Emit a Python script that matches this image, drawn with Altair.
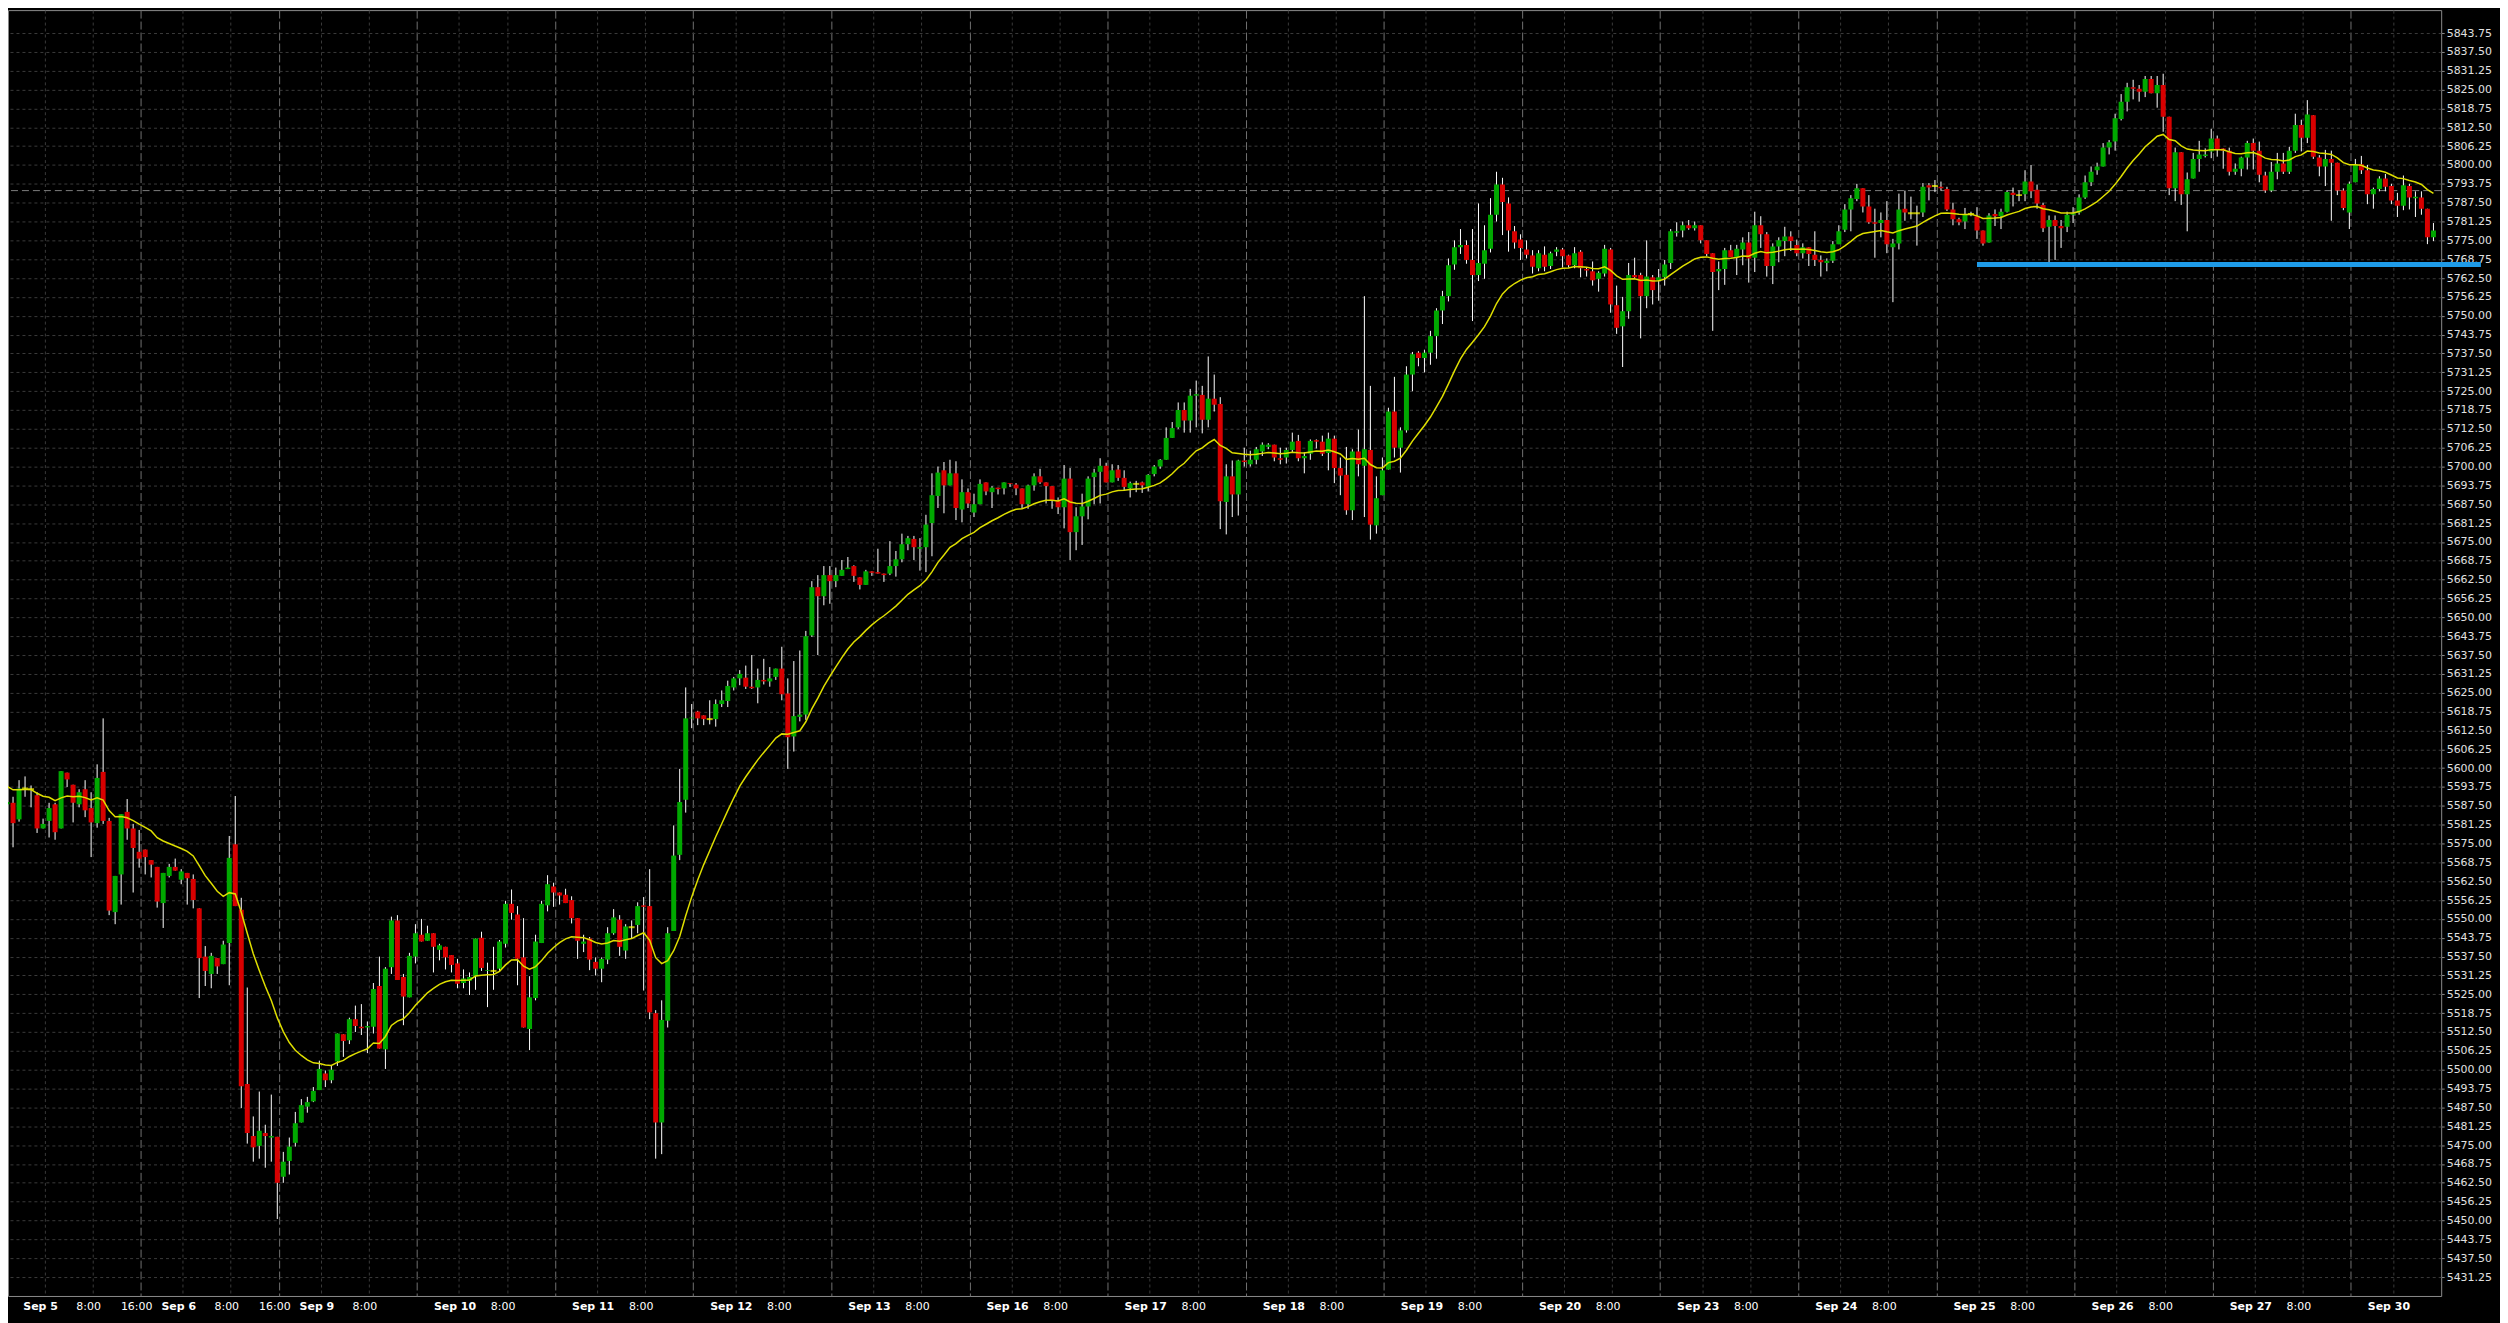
import altair as alt
import pandas as pd

# ---------------- data: hourly candles, Sep 4 18:00 .. Sep 30 07:00 ----------------
opens = [
    5588, 5588.5, 5583, 5593.25, 5593, 5591, 5580, 5582.5, 5588, 5580,
    5598.5, 5594.5, 5588, 5593, 5586.75, 5581.75, 5598.75, 5582.5, 5552.25, 5564.75,
    5585.5, 5580, 5572.25, 5573, 5569.5, 5567.25, 5555.25, 5564.25, 5567.25, 5563,
    5565.25, 5563.25, 5553.5, 5537.5, 5531.75, 5537, 5535, 5542, 5574.75, 5553,
    5495.25, 5478, 5474.75, 5479, 5477.5, 5477.75, 5464.5, 5469.75, 5475.75, 5482.5,
    5487.75, 5489.5, 5493.25, 5498.75, 5496.5, 5502.75, 5511.75, 5509.75, 5516.75, 5514.25,
    5514, 5514.25, 5527.75, 5506.75, 5534, 5549.5, 5530.75, 5524, 5537.5, 5544.75,
    5542.75, 5545.25, 5539.75, 5540.75, 5538, 5535.25, 5528.75, 5529.5, 5531, 5543.75,
    5532.75, 5532.75, 5533.5, 5541.75, 5555, 5551.5, 5537.25, 5513.5, 5523.75, 5542,
    5554.5, 5560.75, 5558.75, 5558, 5556.25, 5550.25, 5541.75, 5543.5, 5535.75, 5533.5,
    5536.5, 5545.25, 5549.75, 5539.5, 5547.25, 5548, 5554.5, 5554.25, 5518.75, 5482.5,
    5516.25, 5546, 5571.25, 5589.5, 5616.5, 5618.75, 5617.5, 5616.25, 5616.25, 5621.25,
    5622.25, 5626.75, 5629.75, 5630, 5627, 5626.75, 5629.25, 5628.75, 5630.25, 5633,
    5624.75, 5610.5, 5617, 5617.75, 5644, 5660, 5657, 5664, 5662, 5663.75,
    5666, 5667, 5663.25, 5660.75, 5665.25, 5665, 5664.5, 5664.5, 5667, 5669.25,
    5674.25, 5676, 5672.75, 5673.25, 5681.25, 5690.25, 5698.75, 5693.75, 5697.75, 5685.75,
    5691.5, 5684.75, 5687.5, 5694.75, 5691.5, 5693, 5692.75, 5694.5, 5694, 5692.75,
    5687.5, 5693.75, 5696.75, 5694.75, 5693.5, 5688.75, 5686.5, 5696, 5678.25, 5683.5,
    5686.75, 5696.5, 5698.25, 5700.25, 5694.75, 5699, 5696.25, 5692.75, 5694.25, 5694.75,
    5693.25, 5697.5, 5700, 5702.25, 5709.5, 5713, 5718.75, 5715.25, 5723.5, 5723.75,
    5715.5, 5722.5, 5720.75, 5688.25, 5696.75, 5690.75, 5702, 5700.75, 5702.25, 5705,
    5706.5, 5707.25, 5702.75, 5703, 5705.5, 5708.5, 5702.75, 5704.25, 5708.75, 5708.25,
    5704.5, 5709.25, 5699.5, 5697.25, 5685.5, 5705, 5700.25, 5705.5, 5680.5, 5690.5,
    5699, 5718.25, 5706.25, 5712, 5730.5, 5737.75, 5736, 5737.75, 5743.25, 5751.75,
    5756.5, 5767, 5772.75, 5773.5, 5768.5, 5763.5, 5767.25, 5772.25, 5783.5, 5793.5,
    5787.25, 5778, 5775.25, 5772, 5770, 5765.75, 5770.25, 5766.5, 5771.25, 5772,
    5770, 5766.75, 5771.25, 5765.5, 5764.75, 5762.25, 5764, 5772, 5753.5, 5746.5,
    5751.5, 5763.5, 5763.5, 5756.5, 5762.75, 5761.75, 5762.75, 5767.5, 5777.5, 5778.25,
    5780, 5779, 5780, 5775, 5770.75, 5764.75, 5765.5, 5771.75, 5769.5, 5772,
    5774.25, 5769.25, 5780, 5777, 5766.5, 5773, 5774.75, 5776.25, 5773.5, 5770.75,
    5772.75, 5770.25, 5768.5, 5767.5, 5768.25, 5773.75, 5778.5, 5785.25, 5788.75, 5792.25,
    5786.25, 5781, 5780.75, 5781.75, 5772.75, 5774, 5785.5, 5784, 5784, 5784.25,
    5793.25, 5793, 5792.75, 5792, 5785.25, 5782, 5781.25, 5783.75, 5783, 5778.25,
    5774.25, 5783.75, 5783, 5784.5, 5790.75, 5790, 5790.25, 5794.5, 5791.75, 5786.75,
    5779.5, 5781.75, 5779.75, 5779.5, 5783.5, 5784.25, 5789.25, 5794.25, 5798.25, 5799.5,
    5805.75, 5807.75, 5815.25, 5821, 5825.75, 5825.25, 5824.25, 5828.5, 5823.75, 5826.5,
    5816, 5792.25, 5804.25, 5790.25, 5795.5, 5802, 5803, 5804.5, 5808.75, 5805.5,
    5804.75, 5797.75, 5798.75, 5802.5, 5807.25, 5804.75, 5796.5, 5791.5, 5797.75, 5800.5,
    5797.75, 5804.75, 5813.25, 5809, 5816.5, 5802.5, 5799.5, 5802, 5800.75, 5791.5,
    5784.25, 5794.25, 5800.25, 5798.25, 5790.25, 5792, 5795.5, 5793, 5788.25, 5786.5,
    5793, 5789, 5789.25, 5785.5, 5776,
]
highs = [
    5590.5, 5590.5, 5596, 5597.25, 5594.25, 5592, 5583.25, 5588.5, 5588.5, 5599,
    5598.5, 5594.5, 5593, 5596, 5592, 5601.25, 5616.5, 5583.5, 5564.25, 5584.75,
    5589.75, 5581.5, 5579.5, 5573, 5569.5, 5567.25, 5565.25, 5568.25, 5570, 5566.5,
    5565.25, 5564.75, 5553.5, 5541, 5538.75, 5537, 5542.75, 5577.5, 5590.75, 5557,
    5527.25, 5484.5, 5492.75, 5481.75, 5491.75, 5477.75, 5472.75, 5477.5, 5486, 5490.25,
    5491, 5494.25, 5503, 5499.75, 5501.5, 5512, 5511.75, 5517.25, 5521.25, 5521.75,
    5516, 5528.75, 5537.5, 5534, 5550.75, 5551.25, 5531.75, 5538.75, 5548.25, 5550,
    5547.75, 5545.25, 5541.75, 5540.75, 5538, 5536.75, 5533.25, 5532.25, 5543.5, 5545.75,
    5535.5, 5540.75, 5543, 5556, 5559.75, 5554.25, 5550.25, 5531, 5544.75, 5556,
    5564.5, 5562, 5558.75, 5560, 5557.5, 5550.25, 5544.75, 5544, 5537.25, 5537.25,
    5547.25, 5553.25, 5551.25, 5548.25, 5549.5, 5555.5, 5557.25, 5566.5, 5519.75, 5523,
    5547.25, 5581, 5599.75, 5626.75, 5621.25, 5619, 5617.5, 5622.5, 5622.75, 5625.75,
    5629, 5630.25, 5632.5, 5634, 5637.5, 5633, 5636.25, 5633.5, 5633, 5640.25,
    5629.75, 5635.5, 5639, 5645.5, 5662, 5664, 5667, 5667, 5666.5, 5669,
    5670, 5667.25, 5663.25, 5665.75, 5665.25, 5672.75, 5664.5, 5675.25, 5672, 5677.75,
    5677, 5677, 5676.25, 5684, 5697.75, 5700, 5701.5, 5702.25, 5701.75, 5695.75,
    5692.75, 5691, 5695.75, 5694.75, 5693.5, 5693, 5694.75, 5694.5, 5694.5, 5692.75,
    5694, 5697.75, 5699.25, 5694.75, 5693.5, 5689.75, 5700.5, 5699.5, 5686.5, 5691,
    5696.75, 5699.25, 5702.75, 5701.25, 5700.75, 5700.5, 5698.75, 5695, 5695.25, 5695,
    5697.5, 5700.5, 5702.5, 5713, 5714.75, 5721.25, 5721.25, 5725.75, 5728.5, 5726.75,
    5736.5, 5730.5, 5723, 5700.75, 5702, 5702.25, 5706.25, 5705.25, 5706.5, 5708,
    5707.75, 5707.25, 5706.25, 5706.25, 5711.25, 5710.5, 5704.75, 5709, 5709, 5710.25,
    5711.25, 5710.25, 5703, 5706.5, 5705.75, 5712.25, 5756.5, 5726.75, 5696.75, 5703,
    5719.5, 5729.75, 5713, 5733.25, 5738, 5738.25, 5738.75, 5745, 5752.5, 5758.25,
    5769, 5775, 5778.75, 5775, 5778.75, 5787.25, 5780, 5789, 5797.75, 5795.75,
    5789.25, 5779.75, 5777, 5775, 5771.75, 5771.75, 5773, 5771.25, 5772.75, 5772.5,
    5770.25, 5772.75, 5771.75, 5766, 5768, 5764.75, 5773.5, 5772.5, 5760, 5756.25,
    5767.5, 5769.25, 5764.25, 5775, 5763.5, 5765.5, 5768.5, 5778.75, 5781, 5781.25,
    5781.75, 5781.25, 5780, 5775, 5770.75, 5768, 5772.5, 5773.5, 5773.5, 5776,
    5777.75, 5784.5, 5783, 5777.75, 5774, 5776, 5779.5, 5778, 5775.25, 5774,
    5772.75, 5778, 5770, 5769, 5774.75, 5780, 5787, 5790, 5793.75, 5792.25,
    5790, 5785.5, 5784.25, 5788, 5775.5, 5790.5, 5791.5, 5789.5, 5786.5, 5794,
    5794, 5795, 5794.5, 5792.75, 5787.5, 5782.5, 5785.75, 5784.5, 5786, 5778.25,
    5784, 5785.25, 5785.5, 5791.5, 5792.5, 5791.5, 5798.25, 5800, 5793.5, 5787.5,
    5783.25, 5783.25, 5781.75, 5784.5, 5786, 5790.25, 5796.5, 5799.5, 5800.75, 5807.25,
    5808.25, 5817, 5823.5, 5827.25, 5828.25, 5826.5, 5829.5, 5829.5, 5829.5, 5830.25,
    5816, 5805.75, 5804.25, 5797.5, 5804, 5808, 5805.5, 5812, 5809.75, 5805.5,
    5805.75, 5800.5, 5802.75, 5808, 5808.75, 5807.75, 5797.75, 5801, 5804, 5804,
    5806, 5817, 5815, 5821.5, 5816.5, 5803.25, 5805, 5804.75, 5800.75, 5792.25,
    5794.5, 5802, 5803, 5800, 5792.5, 5796.25, 5797, 5793.75, 5790.75, 5796.5,
    5793.75, 5791.25, 5791.25, 5785.5, 5780.75,
]
lows = [
    5585.25, 5573.75, 5582.25, 5590.5, 5587, 5578.5, 5580, 5577, 5576.25, 5580,
    5593.75, 5582, 5587, 5583.75, 5570.5, 5580.25, 5581.5, 5551.25, 5548.25, 5554.75,
    5576.25, 5558.75, 5567, 5564.75, 5563.75, 5553.75, 5547, 5563.75, 5566, 5561.5,
    5554.75, 5553.5, 5523.75, 5527.75, 5527, 5531.75, 5535, 5528, 5554.25, 5487.25,
    5475.5, 5469.5, 5470.5, 5467.5, 5469.5, 5450.5, 5462.5, 5465.25, 5474.5, 5482.5,
    5485.75, 5489.25, 5493.25, 5494.25, 5495.5, 5501.25, 5504.25, 5508.5, 5512.5, 5511.5,
    5505.5, 5512, 5507, 5500.25, 5531.75, 5529.75, 5514.75, 5524, 5535.25, 5542.5,
    5542.75, 5532.25, 5536.25, 5533.25, 5532.25, 5527, 5527, 5524.75, 5526.5, 5532.75,
    5520.75, 5526.5, 5532.75, 5540.5, 5549.75, 5528, 5514, 5506.5, 5523, 5542,
    5552.5, 5554, 5554.75, 5555.25, 5548.5, 5536.75, 5539, 5533, 5531.25, 5529,
    5535, 5544.75, 5537.75, 5536.75, 5543.5, 5545.25, 5526.25, 5516.75, 5470.5, 5472,
    5514, 5546, 5569.5, 5585.25, 5613.25, 5614.25, 5614.25, 5614.5, 5613.75, 5620.25,
    5620.25, 5625.75, 5627.5, 5626.25, 5626.25, 5621.5, 5627.75, 5627, 5629.25, 5622.5,
    5599.75, 5605.5, 5615.5, 5616, 5643.5, 5637.5, 5654, 5654.5, 5660, 5663.75,
    5666, 5661.75, 5659.25, 5660.75, 5663.75, 5664.5, 5661.75, 5664, 5663.5, 5668.25,
    5672.25, 5669, 5665.5, 5665, 5670.25, 5686.25, 5684.5, 5693.75, 5682.25, 5681.5,
    5686.25, 5683.25, 5687.5, 5690.5, 5686.25, 5690.75, 5690.75, 5693.25, 5690.5, 5686,
    5686, 5692, 5694.25, 5687.75, 5686, 5684.25, 5679.5, 5669, 5672.25, 5674,
    5682.5, 5687.5, 5687.75, 5694.75, 5694.75, 5695.25, 5692, 5689.75, 5691.5, 5691.25,
    5691.75, 5696.75, 5699.25, 5702.25, 5709.5, 5712.5, 5711.25, 5711.25, 5713, 5711,
    5713, 5718.25, 5679.25, 5677.5, 5683.25, 5683.75, 5700, 5700, 5700.75, 5703.5,
    5705.75, 5701.75, 5700.75, 5701, 5704.75, 5701.75, 5697.75, 5702.25, 5706, 5703.5,
    5698.75, 5694.5, 5690.5, 5684, 5682.25, 5696.75, 5683.25, 5675.75, 5677.75, 5690.5,
    5699, 5703, 5698, 5711.25, 5725, 5733.25, 5731.25, 5733.75, 5735.75, 5747.25,
    5754.75, 5765.25, 5770.5, 5767.25, 5748.25, 5761.5, 5762.25, 5771, 5781.25, 5776.75,
    5771.25, 5772.25, 5768.5, 5769, 5764, 5764.75, 5764.75, 5765.5, 5769.75, 5766,
    5766, 5765.75, 5762.75, 5763, 5760, 5758, 5763, 5751, 5744, 5733,
    5749, 5762.5, 5742.5, 5752.5, 5753.75, 5755, 5760, 5765.5, 5776.25, 5776,
    5778.5, 5778.25, 5774, 5769.75, 5745, 5758.5, 5760.25, 5769.5, 5763.5, 5766.75,
    5761, 5764.5, 5772.5, 5763, 5760.5, 5767.75, 5769.75, 5771.5, 5769.75, 5769,
    5766.5, 5766.5, 5763, 5764.75, 5767.5, 5773.75, 5777.75, 5778, 5788, 5784.25,
    5780.5, 5769.25, 5776, 5770.75, 5754.5, 5772, 5781.5, 5782, 5773.25, 5782.75,
    5788.25, 5791, 5791.5, 5784.75, 5780, 5780, 5778.75, 5783, 5775.5, 5773.25,
    5774.25, 5779.75, 5778.75, 5784.25, 5786.25, 5788, 5788, 5789, 5785.5, 5777.75,
    5767.75, 5768.5, 5772.5, 5777.75, 5780.75, 5783.5, 5788.75, 5793, 5796.75, 5799.5,
    5803.5, 5804.75, 5814.75, 5817.75, 5821.75, 5821, 5822.5, 5823.75, 5819, 5811,
    5790, 5788, 5786.75, 5778, 5795.5, 5797.75, 5802.5, 5802.25, 5802.75, 5798.75,
    5796.5, 5796.75, 5796.25, 5798.5, 5798.5, 5794.25, 5790.75, 5791, 5795.25, 5797,
    5797, 5804, 5804.5, 5807.25, 5802, 5796.25, 5793, 5781.5, 5790, 5785,
    5778.75, 5794.25, 5797, 5787, 5785.5, 5791.25, 5791.25, 5787, 5782.75, 5785,
    5785.25, 5782.75, 5783.5, 5773.75, 5774.75,
]
closes = [
    5588.75, 5581.75, 5593.25, 5593.25, 5593, 5580, 5581.5, 5586.75, 5578.75, 5599,
    5596.25, 5588.5, 5592, 5586, 5582, 5596.75, 5582.5, 5552.75, 5564.25, 5584.75,
    5580, 5573.5, 5570, 5570.5, 5568, 5555.75, 5565.25, 5567.25, 5566, 5565.75,
    5563.5, 5556.25, 5537, 5532.75, 5537.75, 5534.25, 5541.5, 5570.25, 5554.25, 5494.5,
    5479, 5474.25, 5479.75, 5478, 5478, 5462.5, 5469.5, 5474.5, 5482.25, 5488.25,
    5489.25, 5493, 5500.25, 5496.5, 5500, 5512, 5509.5, 5516.75, 5514.5, 5513.75,
    5514.5, 5526.75, 5507, 5533.5, 5549.5, 5529.75, 5524.25, 5537.75, 5545.25, 5542.5,
    5545.25, 5540.75, 5541.25, 5537.25, 5534.75, 5528.5, 5530.25, 5530.75, 5543.5, 5533.75,
    5533, 5532.75, 5542.5, 5555, 5552, 5536.75, 5514, 5524, 5542.5, 5555,
    5561.5, 5558.75, 5557.75, 5555.25, 5550.25, 5542.75, 5542.5, 5536.5, 5533.5, 5536.75,
    5545.25, 5550.5, 5540.75, 5547.5, 5547.25, 5554.25, 5554, 5519, 5482.5, 5516.5,
    5545.25, 5571, 5588.75, 5616.5, 5616.75, 5616.5, 5616.25, 5616.25, 5621.25, 5622.5,
    5627.25, 5629.75, 5631.25, 5627, 5626.5, 5629.25, 5628.75, 5629.75, 5633, 5624.5,
    5610.25, 5617.25, 5617.75, 5643.75, 5660, 5657, 5664, 5662, 5664, 5665.75,
    5666.5, 5663.75, 5660.75, 5665.25, 5664.75, 5664.5, 5664, 5667, 5669.25, 5674.25,
    5676.25, 5673.25, 5673.25, 5680.75, 5690.5, 5698, 5693.75, 5697.75, 5686.25, 5691.5,
    5687.75, 5687.5, 5694.25, 5691.75, 5693, 5692.5, 5694.75, 5694.25, 5692.75, 5687.5,
    5693.75, 5696.75, 5694.75, 5693.5, 5688.75, 5686.5, 5696, 5678.25, 5683.5, 5686.75,
    5696, 5698, 5700.25, 5694.75, 5698.75, 5696.25, 5693.25, 5694.5, 5694.25, 5693.75,
    5697.25, 5700, 5702.25, 5709.5, 5712.75, 5718.75, 5715.25, 5723.5, 5724, 5715.5,
    5722.5, 5720.5, 5688.5, 5696.75, 5690.75, 5702, 5701.5, 5702.25, 5705.75, 5707.25,
    5707.25, 5703, 5702.25, 5705.5, 5708.25, 5702.75, 5703.5, 5708.5, 5708.25, 5704.25,
    5709.25, 5699.5, 5697, 5685.5, 5705, 5700.75, 5705.75, 5680.75, 5689.5, 5698.75,
    5718.25, 5706.25, 5712, 5730.5, 5737.25, 5736, 5737.75, 5743.25, 5751.75, 5756.5,
    5766.75, 5772.75, 5773.5, 5768.5, 5763.5, 5767.5, 5771.75, 5783.5, 5793.5, 5787.75,
    5778.25, 5774.25, 5772.5, 5770.25, 5766.25, 5770.75, 5766.25, 5770.75, 5772, 5769.75,
    5766.75, 5770.75, 5765.75, 5765, 5761.75, 5764.25, 5772.25, 5753.75, 5746, 5751.5,
    5763.5, 5762.75, 5756.5, 5763, 5758.5, 5762.75, 5767, 5778, 5778, 5780,
    5779, 5780, 5775, 5770.5, 5764.5, 5765.5, 5771.75, 5769.5, 5772.25, 5774.25,
    5769, 5780, 5777, 5766.5, 5773, 5775, 5776.25, 5774.75, 5770.75, 5772.75,
    5770.5, 5768.5, 5767.75, 5768.25, 5773.75, 5778, 5785.25, 5789, 5792.25, 5786.25,
    5781, 5780.5, 5781.75, 5773.75, 5774, 5785.25, 5784.25, 5784, 5784, 5792.75,
    5792.5, 5793, 5792.25, 5785.25, 5782, 5781, 5783.5, 5783.75, 5778.25, 5774,
    5783.25, 5783, 5784.5, 5791, 5790, 5790, 5794.5, 5791.25, 5787.25, 5779,
    5781.75, 5779.75, 5779, 5783.5, 5784, 5789.25, 5794.25, 5797.75, 5799.5, 5805.75,
    5807.5, 5815.5, 5821, 5825.75, 5825.25, 5824.25, 5828.5, 5823.75, 5826.5, 5816,
    5792.25, 5804.25, 5790.25, 5795.25, 5802, 5803.5, 5803.5, 5808.75, 5805, 5804.75,
    5797.75, 5798.75, 5802.5, 5807.25, 5804.75, 5796.75, 5791.5, 5797.75, 5800.5, 5797.75,
    5804.75, 5813.25, 5809, 5816.75, 5802.75, 5799.5, 5802, 5800.75, 5791.5, 5785.75,
    5793.75, 5800, 5798.25, 5790.25, 5792, 5795.5, 5792.75, 5788.25, 5786.5, 5793.25,
    5789.25, 5789.5, 5785.5, 5776, 5778.25,
]

# time axis: bar index of each session day's 0:00 bar, and its label
day_labels = ["Sep 5", "Sep 6", "Sep 9", "Sep 10", "Sep 11", "Sep 12", "Sep 13", "Sep 16",
              "Sep 17", "Sep 18", "Sep 19", "Sep 20", "Sep 23", "Sep 24", "Sep 25", "Sep 26",
              "Sep 27", "Sep 30"]
day_start_bar = [6, 29, 52, 75, 98, 121, 144, 167, 190, 213, 236, 259, 282, 305, 328, 351, 374, 397]
days_with_16 = ["Sep 5", "Sep 6"]

ema_start = 5594.5          # EMA(20) value just before the first visible bar
ema_period = 20
ref_price = 5791.5           # grey dashed horizontal line
level_price = 5767.0         # blue level line
level_from_bar = 328
level_to_bar = 411.9

# y ticks
y_first, y_step, y_count = 5431.25, 6.25, 67

# ---------------- build tables ----------------
n = len(closes)
ema = []
prev = ema_start
k = 2.0 / (ema_period + 1)
for c in closes:
    prev = prev + k * (c - prev)
    ema.append(prev)


def direction(o, c):
    if c > o:
        return "up"
    if c < o:
        return "down"
    return "flat"


df = pd.DataFrame({
    "idx": list(range(n)),
    "open": opens, "high": highs, "low": lows, "close": closes,
    "ema": ema,
})
df["dir"] = [direction(o, c) for o, c in zip(opens, closes)]

tick_vals, tick_text = [], []
for lab, d in zip(day_labels, day_start_bar):
    for txt, off in [(lab, 0), ("8:00", 8), ("16:00", 16)]:
        v = d + off + 0.25
        if v > n:
            continue
        if txt == "16:00" and lab not in days_with_16:
            txt = ""
        tick_vals.append(v)
        tick_text.append(txt)

label_expr = "[" + ",".join("'" + t + "'" for t in tick_text) + "][indexof([" + \
    ",".join(repr(v) for v in tick_vals) + "], datum.value)]"

y_vals = [y_first + y_step * i for i in range(y_count)]

# ---------------- scales / axes ----------------
W, H = 2441, 1290
x_scale = alt.Scale(domain=[0.99, 404.46], nice=False, zero=False)
y_scale = alt.Scale(domain=[5424.97, 5851.35], nice=False, zero=False)

FONT = "DejaVu Sans"
session_test = "(datum.value - 6.25) % 23 == 16"
date_test = "(datum.value - 6.25) % 23 == 0"

x_axis = alt.Axis(
    values=tick_vals, labelExpr=label_expr, title=None,
    grid=True,
    gridColor={"condition": {"test": session_test, "value": "#707070"}, "value": "#3a3a3a"},
    gridDash={"condition": {"test": session_test, "value": [8, 3]}, "value": [3, 3]},
    labelFontWeight={"condition": {"test": date_test, "value": "bold"}, "value": "normal"},
    ticks=False, domain=False, labelColor="#ffffff", labelFont=FONT, labelFontSize=11,
    labelPadding=5, labelOffset=-4.5, labelOverlap=False, labelFlush=False, labelBound=False,
)
y_axis = alt.Axis(
    orient="right", values=y_vals, format=".2f", title=None,
    grid=True, gridColor="#3a3a3a", gridDash=[3, 3],
    domain=False, ticks=True, tickSize=3, tickColor="#8a8a8a",
    labelPadding=2, labelColor="#e0e0e0", labelFont=FONT, labelFontSize=11,
    labelOverlap=False, labelFlush=False, labelBound=False,
)

X = alt.X("idx:Q", scale=x_scale, axis=x_axis)

base = alt.Chart(df)

ref_line = alt.Chart(pd.DataFrame({"p": [ref_price]})).mark_rule(
    color="#7c7c7c", strokeDash=[7, 4], strokeWidth=1
).encode(y=alt.Y("p:Q", scale=y_scale, axis=y_axis))

wicks = base.mark_rule(color="#ffffff", strokeWidth=1, clip=True).encode(
    x=X,
    y=alt.Y("low:Q", scale=y_scale, axis=y_axis),
    y2="high:Q",
)

bodies = base.transform_filter("datum.dir != 'flat'").mark_bar(size=5, clip=True).encode(
    x=X,
    y=alt.Y("open:Q", scale=y_scale, axis=y_axis),
    y2="close:Q",
    color=alt.Color("dir:N", scale=alt.Scale(domain=["up", "down"], range=["#00a800", "#d80000"]),
                    legend=None),
)

dojis = base.transform_filter("datum.dir == 'flat'").mark_tick(
    orient="horizontal", size=6, thickness=2, color="#ffff00", clip=True
).encode(x=X, y=alt.Y("close:Q", scale=y_scale, axis=y_axis))

ema_line = base.mark_line(color="#dede00", strokeWidth=1.5, clip=True).encode(
    x=X, y=alt.Y("ema:Q", scale=y_scale, axis=y_axis)
)

level = alt.Chart(pd.DataFrame({"a": [level_from_bar], "b": [level_to_bar], "p": [level_price]})).mark_rule(
    color="#1e9be8", strokeWidth=5, clip=False
).encode(
    x=alt.X("a:Q", scale=x_scale, axis=x_axis), x2="b:Q",
    y=alt.Y("p:Q", scale=y_scale, axis=y_axis),
)

chart = alt.layer(ref_line, wicks, bodies, dojis, ema_line, level).properties(
    width=W, height=H,
    autosize=alt.AutoSizeParams(type="none"),
    padding={"left": 0, "top": 0, "right": 59, "bottom": 25},
    background="#000000",
).configure_view(stroke="#8a8a8a", strokeWidth=1)

chart.save("out.html", embed_options={"renderer": "svg", "actions": False})
